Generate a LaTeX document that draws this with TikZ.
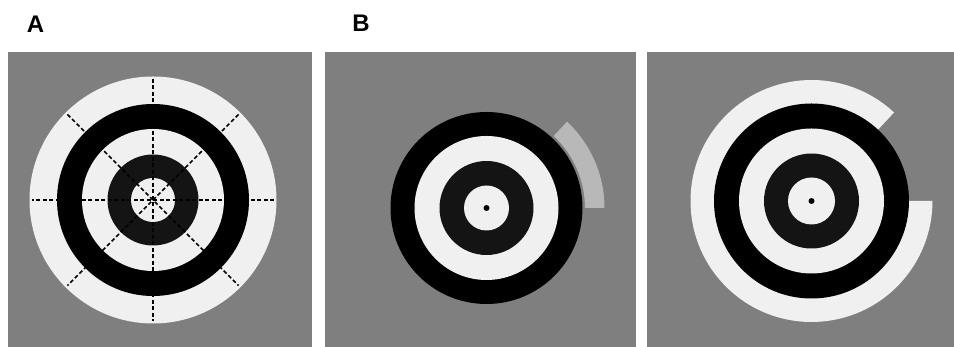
\documentclass[tikz,border=0pt]{standalone}
\usepackage{fontspec}
\setmainfont{Liberation Sans}
\usetikzlibrary{calc}
\definecolor{bggray}{HTML}{7F7F7F}
\definecolor{ringwhite}{HTML}{F0F0F0}
\definecolor{ringblack}{HTML}{000000}
\definecolor{innerblack}{HTML}{141414}
\definecolor{lightarc}{HTML}{B8B8B8}
\begin{document}
\begin{tikzpicture}[x=1pt,y=1pt,
  panel/.style={fill=bggray},
  guide/.style={draw=black,line width=1.6pt,dash pattern=on 4pt off 2.5pt},
  lab/.style={font=\fontsize{24}{24}\selectfont\bfseries,inner sep=0pt}]
\useasboundingbox (0,0) rectangle (954,347);
\fill[white] (0,0) rectangle (954,347);
% panels
\fill[panel] (7.5,0) rectangle (312,295);
\fill[panel] (325,0) rectangle (636,295);
\fill[panel] (647,0) rectangle (954,295);
% labels
\node[lab] (la) at (35.5,323) {A};
\node[lab] (lb) at (361,324) {B};
% centers
\coordinate (ca) at (153,147);
\coordinate (cb) at (486.5,139);
\coordinate (cc) at (811.5,146);
% Panel A
\fill[ringwhite] (ca) circle[radius=123.5];
\fill[ringblack] (ca) circle[radius=96];
\fill[ringwhite] (ca) circle[radius=71];
\fill[innerblack] (ca) circle[radius=45.5];
\fill[ringwhite] (ca) circle[radius=22];
\foreach \t in {0,45,90,135}{
  \draw[guide] ($(ca)+(\t:121)$) -- ($(ca)+(\t+180:121)$);
}
% Panel B
\fill[lightarc] ($(cb)+(0:98.5)$) -- ($(cb)+(0:118)$) arc[start angle=0,end angle=47,radius=118]
  -- ($(cb)+(47:98.5)$) arc[start angle=47,end angle=0,radius=98.5] -- cycle;
\fill[ringblack] (cb) circle[radius=96];
\fill[ringwhite] (cb) circle[radius=72];
\fill[innerblack] (cb) circle[radius=47];
\fill[ringwhite] (cb) circle[radius=22.5];
\fill[black] (cb) circle[radius=3];
% Panel C
\fill[ringwhite] (cc) -- ($(cc)+(47:121)$) arc[start angle=47,end angle=360,radius=121] -- cycle;
\fill[ringblack] (cc) circle[radius=97.5];
\fill[ringwhite] (cc) circle[radius=72.5];
\fill[innerblack] (cc) circle[radius=47.5];
\fill[ringwhite] (cc) circle[radius=23.5];
\fill[black] (cc) circle[radius=3];
\end{tikzpicture}
\end{document}
